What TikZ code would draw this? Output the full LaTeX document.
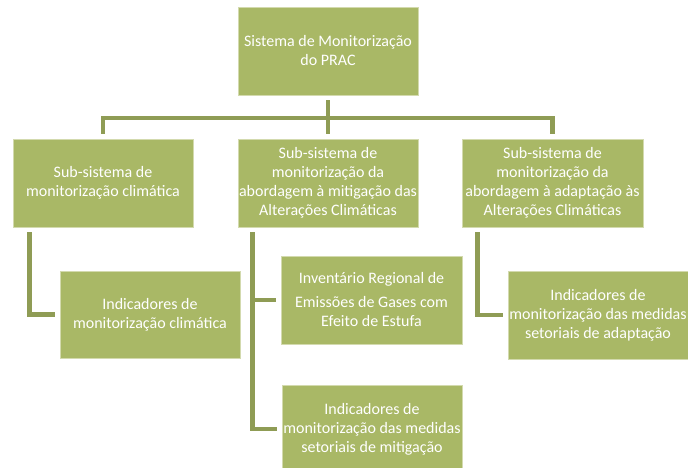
\documentclass[tikz,border=0pt]{standalone}
\usepackage{fontspec}
\setmainfont{Carlito}
\definecolor{boxfill}{HTML}{A9B866}
\definecolor{boxedge}{HTML}{D3DAAE}
\definecolor{connline}{HTML}{8F9C55}
\tikzset{
  orgbox/.style={rectangle, fill=boxfill, draw=boxedge, line width=0.8pt,
    minimum width=180pt, minimum height=88pt, inner sep=0pt, align=center,
    text=white, font=\fontsize{16}{19}\selectfont},
  conn/.style={draw=connline, line width=4.5pt, shorten <=5pt, shorten >=5pt, line join=miter}
}
\begin{document}
\begin{tikzpicture}[x=1pt,y=-1pt]
\useasboundingbox (0,0) rectangle (688,468);
\clip (0,0) rectangle (688,468);
\node[orgbox] (top) at (328,51) {Sistema de Monitorização\\do PRAC};
\node[orgbox] (sub1) at (103,183) {Sub-sistema de\\monitorização climática};
\node[orgbox] (sub2) at (328,183) {Sub-sistema de\\monitorização da\\abordagem à mitigação das\\Alterações Climáticas};
\node[orgbox, minimum width=181pt] (sub3) at (552.5,183) {Sub-sistema de\\monitorização da\\abordagem à adaptação às\\Alterações Climáticas};
\node[orgbox, minimum height=87pt] (ch1) at (150,314.5) {Indicadores de\\monitorização climática};
\node[orgbox, minimum width=181pt] (ch2a) at (371.5,300) {Inventário Regional de\\[5pt]Emissões de Gases com\\Efeito de Estufa};
\node[orgbox] (ch2b) at (372,429) {Indicadores de\\monitorização das medidas\\setoriais de mitigação};
\node[orgbox] (ch3) at (598,315) {Indicadores de\\monitorização das medidas\\setoriais de adaptação};
\coordinate (bar) at (328,118);
\draw[conn] (top.south) -- (sub2.north);
\draw[conn] (sub1.north) |- (bar) -| (sub3.north);
\draw[conn] ([xshift=17pt]sub1.south west) |- (ch1.west);
\draw[conn] ([xshift=15pt]sub2.south west) |- (ch2a.west);
\draw[conn] ([xshift=15pt]sub2.south west) |- (ch2b.west);
\draw[conn] ([xshift=16pt]sub3.south west) |- (ch3.west);
\end{tikzpicture}
\end{document}
